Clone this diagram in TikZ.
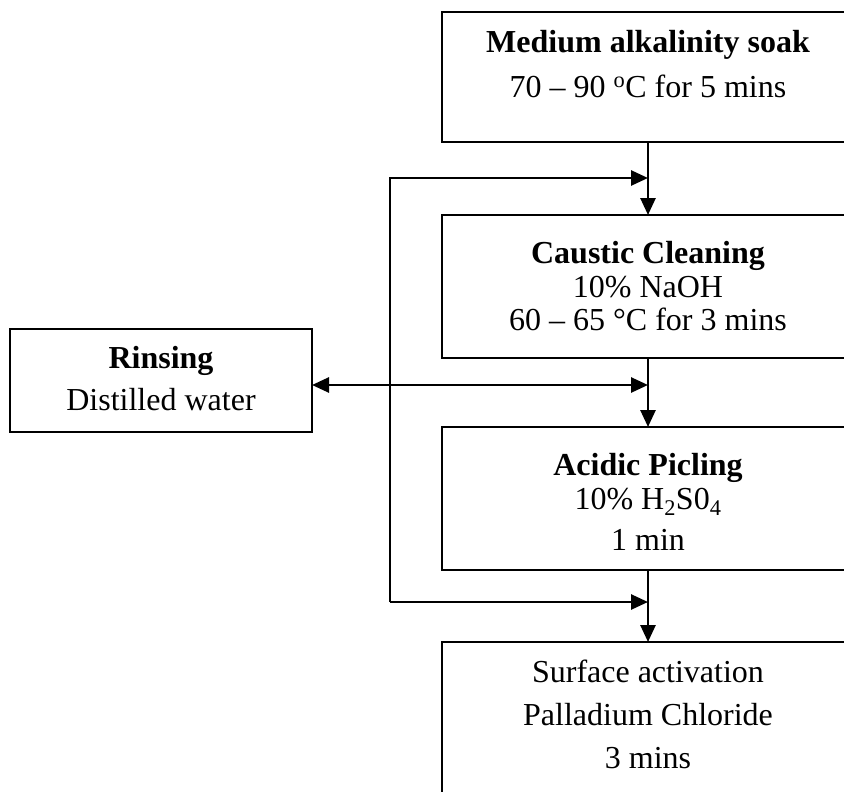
\documentclass[tikz,border=0pt]{standalone}
\usepackage{fontspec}
\setmainfont{Liberation Serif}
\usetikzlibrary{arrows.meta}
\begin{document}
\begin{tikzpicture}[x=1pt,y=-1pt,
  box/.style={draw,line width=1.7pt,minimum width=412pt,anchor=north west,inner sep=0pt,outer sep=0pt},
  txt/.style={anchor=base,inner sep=0pt,font=\fontsize{32}{38}\selectfont},
  btxt/.style={anchor=base,inner sep=0pt,font=\fontsize{32}{38}\selectfont\bfseries},
  tip/.style={Triangle[length=17pt,width=15pt]},
  arr/.style={line width=2.7pt,line join=miter,-{Triangle[length=17pt,width=15pt]}},
  darr/.style={line width=2.7pt,{Triangle[length=17pt,width=15pt]}-{Triangle[length=17pt,width=15pt]}}
]
\clip (0,0) rectangle (844,792);
\fill[white] (0,0) rectangle (844,792);
% boxes
\node[box,minimum height=130pt] (b1) at (442,12) {};
\node[box,minimum height=143pt] (b2) at (442,215) {};
\node[box,minimum height=143pt] (b3) at (442,427) {};
\node[box,minimum height=170pt] (b4) at (442,642) {};
\node[box,minimum width=302pt,minimum height=103pt] (rin) at (10,329) {};
% texts
\node[btxt] (t11) at (648,53) {Medium alkalinity soak};
\node[txt] (t12) at (648,97) {70 – 90 \textsuperscript{o}C for 5 mins};
\node[btxt] (t21) at (648,263) {Caustic Cleaning};
\node[txt] (t22) at (648,297) {10\% NaOH};
\node[txt] (t23) at (648,330) {60 – 65 °C for 3 mins};
\node[btxt] (t31) at (648,475) {Acidic Picling};
\node[txt] (t32) at (648,509) {10\% H\textsubscript{2}S0\textsubscript{4}};
\node[txt] (t33) at (648,550) {1 min};
\node[txt] (t41) at (648,682) {Surface activation};
\node[txt] (t42) at (648,725) {Palladium Chloride};
\node[txt] (t43) at (648,768) {3 mins};
\node[btxt] (r1) at (161,368) {Rinsing};
\node[txt] (r2) at (161,410) {Distilled water};
% junction coordinates
\coordinate (j1) at (648,178);
\coordinate (j2) at (648,385);
\coordinate (j3) at (648,602);
\coordinate (c1) at (390,178);
\coordinate (c2) at (390,602);
% main flow
\draw[arr] (b1.south -| j1) -- (b2.north -| j1);
\draw[arr] (b2.south -| j2) -- (b3.north -| j2);
\draw[arr] (b3.south -| j3) -- (b4.north -| j3);
% rinsing loop
\draw[arr] (c2) -- (c1) -- (j1);
\draw[arr] (c2) -- (j3);
\draw[darr] (rin.east |- j2) -- (j2);
\end{tikzpicture}
\end{document}
